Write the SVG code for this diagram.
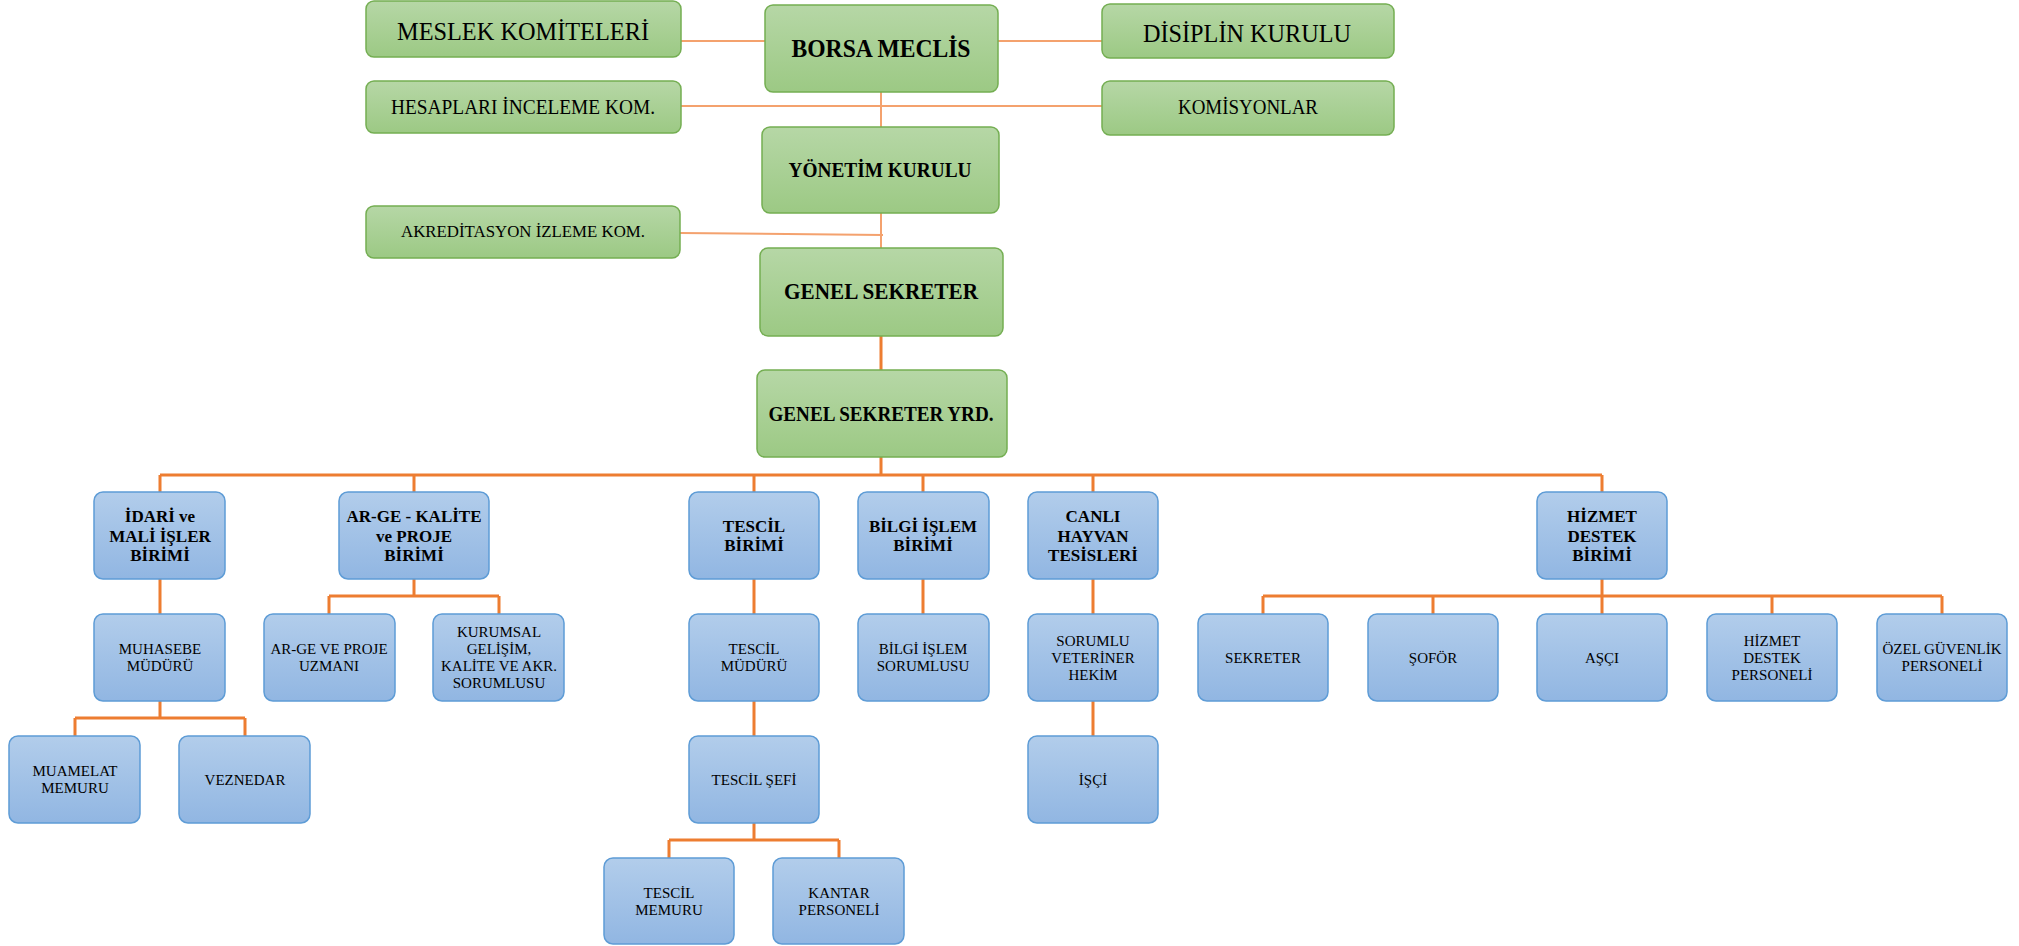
<svg xmlns="http://www.w3.org/2000/svg" width="2019" height="946" viewBox="0 0 2019 946">
<defs>
<linearGradient id="gG" x1="0" y1="0" x2="0" y2="1"><stop offset="0" stop-color="#B6D7A6"/><stop offset="1" stop-color="#9CC984"/></linearGradient>
<linearGradient id="gB" x1="0" y1="0" x2="0" y2="1"><stop offset="0" stop-color="#B2CDEB"/><stop offset="1" stop-color="#91B6E2"/></linearGradient>
</defs>
<style>
.g{fill:url(#gG);stroke:#74AE52;stroke-width:1.5}
.b{fill:url(#gB);stroke:#5E9CD6;stroke-width:1.5}
text{font-family:"Liberation Serif","DejaVu Serif",serif;fill:#000;text-anchor:middle}
.bd{font-weight:bold}
.h{font-weight:bold;font-size:17px}
.r{font-size:15px}
.lt{fill:none;stroke:#F4A26E;stroke-width:2}
.dk{fill:none;stroke:#ED7D31;stroke-width:3}
</style>
<g id="connectors">
<path class="lt" d="M681 41H765M998 41H1102M681 106H1102M881 92V127M881 213V248M680 233L883 235"/>
<path class="dk" d="M881 336V370M881 457V475M160 475H1602M160 475V492M414 475V492M754 475V492M923 475V492M1093 475V492M1602 475V492"/>
<path class="dk" d="M160 579V614M160 701V718M75 718H245M75 718V736M245 718V736"/>
<path class="dk" d="M414 579V596M329 596H499M329 596V614M499 596V614"/>
<path class="dk" d="M754 579V614M754 701V736M754 823V840M669 840H839M669 840V858M839 840V858"/>
<path class="dk" d="M923 579V614M1093 579V614M1093 701V736"/>
<path class="dk" d="M1602 579V596M1263 596H1942M1263 596V614M1433 596V614M1602 596V614M1772 596V614M1942 596V614"/>
</g>
<g id="meslek"><rect class="g" x="366" y="1" width="315" height="56" rx="8"/><text x="523" y="40" font-size="25" textLength="252" lengthAdjust="spacingAndGlyphs">MESLEK KOMİTELERİ</text></g>
<g id="borsa"><rect class="g" x="765" y="5" width="233" height="87" rx="8"/><text class="bd" x="881" y="57" font-size="25" textLength="179" lengthAdjust="spacingAndGlyphs">BORSA MECLİS</text></g>
<g id="disiplin"><rect class="g" x="1102" y="4" width="292" height="54" rx="8"/><text x="1247" y="42" font-size="25" textLength="208" lengthAdjust="spacingAndGlyphs">DİSİPLİN KURULU</text></g>
<g id="hesaplari"><rect class="g" x="366" y="81" width="315" height="52" rx="8"/><text x="523" y="114" font-size="20" textLength="264" lengthAdjust="spacingAndGlyphs">HESAPLARI İNCELEME KOM.</text></g>
<g id="komisyonlar"><rect class="g" x="1102" y="81" width="292" height="54" rx="8"/><text x="1248" y="114" font-size="20" textLength="140" lengthAdjust="spacingAndGlyphs">KOMİSYONLAR</text></g>
<g id="yonetim"><rect class="g" x="762" y="127" width="237" height="86" rx="8"/><text class="bd" x="880" y="177" font-size="22" textLength="183" lengthAdjust="spacingAndGlyphs">YÖNETİM KURULU</text></g>
<g id="akreditasyon"><rect class="g" x="366" y="206" width="314" height="52" rx="8"/><text x="523" y="237" font-size="17" textLength="244" lengthAdjust="spacingAndGlyphs">AKREDİTASYON İZLEME KOM.</text></g>
<g id="genel"><rect class="g" x="760" y="248" width="243" height="88" rx="8"/><text class="bd" x="881" y="299" font-size="23" textLength="194" lengthAdjust="spacingAndGlyphs">GENEL SEKRETER</text></g>
<g id="yrd"><rect class="g" x="757" y="370" width="250" height="87" rx="8"/><text class="bd" x="881" y="421" font-size="22" textLength="225" lengthAdjust="spacingAndGlyphs">GENEL SEKRETER YRD.</text></g>

<g id="idari"><rect class="b" x="94" y="492" width="131" height="87" rx="9"/><text class="h" x="160" y="522">İDARİ ve</text><text class="h" x="160" y="541.5">MALİ İŞLER</text><text class="h" x="160" y="561">BİRİMİ</text></g>
<g id="arge"><rect class="b" x="339" y="492" width="150" height="87" rx="9"/><text class="h" x="414" y="522">AR-GE - KALİTE</text><text class="h" x="414" y="541.5">ve PROJE</text><text class="h" x="414" y="561">BİRİMİ</text></g>
<g id="tescil"><rect class="b" x="689" y="492" width="130" height="87" rx="9"/><text class="h" x="754" y="532">TESCİL</text><text class="h" x="754" y="551">BİRİMİ</text></g>
<g id="bilgi"><rect class="b" x="858" y="492" width="131" height="87" rx="9"/><text class="h" x="923" y="532">BİLGİ İŞLEM</text><text class="h" x="923" y="551">BİRİMİ</text></g>
<g id="canli"><rect class="b" x="1028" y="492" width="130" height="87" rx="9"/><text class="h" x="1093" y="522">CANLI</text><text class="h" x="1093" y="541.5">HAYVAN</text><text class="h" x="1093" y="561">TESİSLERİ</text></g>
<g id="hizmet"><rect class="b" x="1537" y="492" width="130" height="87" rx="9"/><text class="h" x="1602" y="522">HİZMET</text><text class="h" x="1602" y="541.5">DESTEK</text><text class="h" x="1602" y="561">BİRİMİ</text></g>

<g id="muhasebe"><rect class="b" x="94" y="614" width="131" height="87" rx="9"/><text class="r" x="160" y="654">MUHASEBE</text><text class="r" x="160" y="671">MÜDÜRÜ</text></g>
<g id="argeuzman"><rect class="b" x="264" y="614" width="131" height="87" rx="9"/><text class="r" x="329" y="654">AR-GE VE PROJE</text><text class="r" x="329" y="671">UZMANI</text></g>
<g id="kurumsal"><rect class="b" x="433" y="614" width="131" height="87" rx="9"/><text class="r" x="499" y="637">KURUMSAL</text><text class="r" x="499" y="654">GELİŞİM,</text><text class="r" x="499" y="671">KALİTE VE AKR.</text><text class="r" x="499" y="688">SORUMLUSU</text></g>
<g id="tescilmudur"><rect class="b" x="689" y="614" width="130" height="87" rx="9"/><text class="r" x="754" y="654">TESCİL</text><text class="r" x="754" y="671">MÜDÜRÜ</text></g>
<g id="bilgisorumlu"><rect class="b" x="858" y="614" width="131" height="87" rx="9"/><text class="r" x="923" y="654">BİLGİ İŞLEM</text><text class="r" x="923" y="671">SORUMLUSU</text></g>
<g id="veteriner"><rect class="b" x="1028" y="614" width="130" height="87" rx="9"/><text class="r" x="1093" y="646">SORUMLU</text><text class="r" x="1093" y="663">VETERİNER</text><text class="r" x="1093" y="680">HEKİM</text></g>
<g id="sekreter"><rect class="b" x="1198" y="614" width="130" height="87" rx="9"/><text class="r" x="1263" y="663">SEKRETER</text></g>
<g id="sofor"><rect class="b" x="1368" y="614" width="130" height="87" rx="9"/><text class="r" x="1433" y="663">ŞOFÖR</text></g>
<g id="asci"><rect class="b" x="1537" y="614" width="130" height="87" rx="9"/><text class="r" x="1602" y="663">AŞÇI</text></g>
<g id="destekpersonel"><rect class="b" x="1707" y="614" width="130" height="87" rx="9"/><text class="r" x="1772" y="646">HİZMET</text><text class="r" x="1772" y="663">DESTEK</text><text class="r" x="1772" y="680">PERSONELİ</text></g>
<g id="guvenlik"><rect class="b" x="1877" y="614" width="130" height="87" rx="9"/><text class="r" x="1942" y="654">ÖZEL GÜVENLİK</text><text class="r" x="1942" y="671">PERSONELİ</text></g>

<g id="muamelat"><rect class="b" x="9" y="736" width="131" height="87" rx="9"/><text class="r" x="75" y="776">MUAMELAT</text><text class="r" x="75" y="793">MEMURU</text></g>
<g id="veznedar"><rect class="b" x="179" y="736" width="131" height="87" rx="9"/><text class="r" x="245" y="785">VEZNEDAR</text></g>
<g id="tescilsefi"><rect class="b" x="689" y="736" width="130" height="87" rx="9"/><text class="r" x="754" y="785">TESCİL ŞEFİ</text></g>
<g id="isci"><rect class="b" x="1028" y="736" width="130" height="87" rx="9"/><text class="r" x="1093" y="785">İŞÇİ</text></g>

<g id="tescilmemur"><rect class="b" x="604" y="858" width="130" height="86" rx="9"/><text class="r" x="669" y="898">TESCİL</text><text class="r" x="669" y="915">MEMURU</text></g>
<g id="kantar"><rect class="b" x="773" y="858" width="131" height="86" rx="9"/><text class="r" x="839" y="898">KANTAR</text><text class="r" x="839" y="915">PERSONELİ</text></g>
</svg>
